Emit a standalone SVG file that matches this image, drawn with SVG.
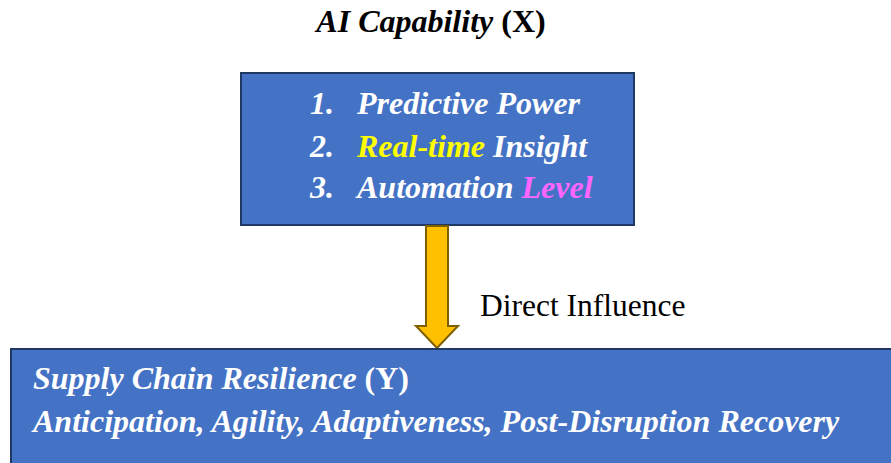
<svg xmlns="http://www.w3.org/2000/svg" width="891" height="463" viewBox="0 0 891 463">
<style>
.t{font-family:"Liberation Serif","Times New Roman",serif;font-weight:bold}
.i{font-style:italic}
.w{fill:#FFFFFF}
.box{fill:#4472C4;stroke:#1F3864;stroke-width:2}
</style>
<rect width="891" height="463" fill="#FFFFFF"/>
<g id="title">
<text class="t" x="431" y="32" font-size="32" text-anchor="middle" fill="#000"><tspan class="i">AI Capability</tspan> (X)</text>
</g>
<g id="ai-capability">
<rect class="box" x="241" y="73" width="393" height="152"/>
<text class="t i w" font-size="32" x="310" y="114">1.</text>
<text class="t i w" font-size="32" x="357" y="114">Predictive Power</text>
<text class="t i w" font-size="32" x="310" y="157">2.</text>
<text class="t i w" font-size="32" x="357" y="157"><tspan fill="#FFFF00">Real-time</tspan> Insight</text>
<text class="t i w" font-size="32" x="310" y="198">3.</text>
<text class="t i w" font-size="32" x="357" y="198">Automation <tspan fill="#FF66FF">Level</tspan></text>
</g>
<g id="connectors">
<path d="M426,226 L448,226 L448,326 L458,326 L437,348 L416,326 L426,326 Z" fill="#FFC000" stroke="#7F6000" stroke-width="2" stroke-linejoin="miter"/>
<text x="480" y="316" font-family="Liberation Serif,'Times New Roman',serif" font-size="31.5" fill="#000">Direct Influence</text>
</g>
<g id="supply-chain-resilience">
<rect class="box" x="11" y="349" width="890" height="130"/>
<text class="t w" font-size="32" x="33" y="389"><tspan class="i">Supply Chain Resilience</tspan> (Y)</text>
<text class="t i w" font-size="32" x="33" y="432">Anticipation, Agility, Adaptiveness, Post-Disruption Recovery</text>
</g>
</svg>
